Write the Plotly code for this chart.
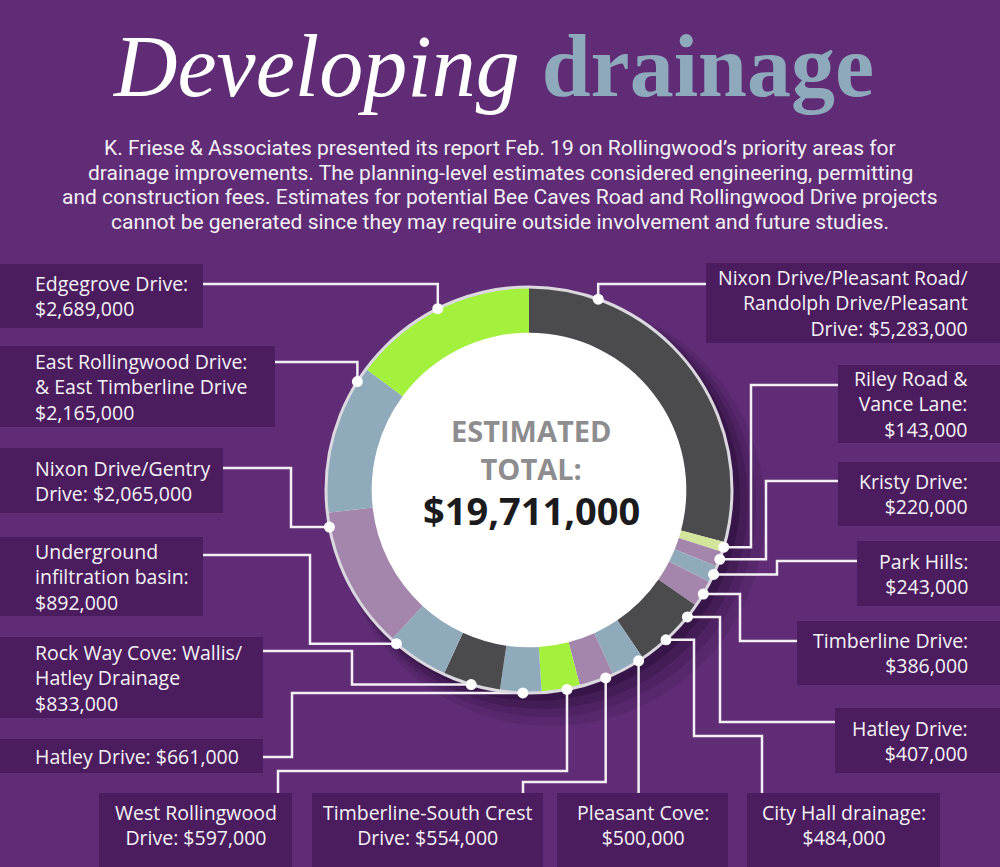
import math
import plotly.graph_objects as go

# ---- data (clockwise from 12 o'clock) ----
projects = ["Nixon Drive/Pleasant Road/Randolph Drive/Pleasant Drive",
            "Riley Road & Vance Lane", "Kristy Drive", "Park Hills",
            "Timberline Drive", "Hatley Drive", "City Hall drainage",
            "Pleasant Cove", "Timberline-South Crest Drive",
            "West Rollingwood Drive", "Hatley Drive",
            "Rock Way Cove: Wallis/Hatley Drainage",
            "Underground infiltration basin", "Nixon Drive/Gentry Drive",
            "East Rollingwood Drive & East Timberline Drive", "Edgegrove Drive"]
costs = [5283000, 143000, 220000, 243000, 386000, 407000, 484000, 500000,
         554000, 597000, 661000, 833000, 892000, 2065000, 2165000, 2689000]
# label wording as printed, {v} is the cost
label_text = ["Nixon Drive/Pleasant Road/<br>Randolph Drive/Pleasant<br>Drive: {v}",
              "Riley Road &<br>Vance Lane:<br>{v}",
              "Kristy Drive:<br>{v}",
              "Park Hills:<br>{v}",
              "Timberline Drive:<br>{v}",
              "Hatley Drive:<br>{v}",
              "City Hall drainage:<br>{v}",
              "Pleasant Cove:<br>{v}",
              "Timberline-South Crest<br>Drive: {v}",
              "West Rollingwood<br>Drive: {v}",
              "Hatley Drive: {v}",
              "Rock Way Cove: Wallis/<br>Hatley Drainage<br>{v}",
              "Underground<br>infiltration basin:<br>{v}",
              "Nixon Drive/Gentry<br>Drive: {v}",
              "East Rollingwood Drive:<br>& East Timberline Drive<br>{v}",
              "Edgegrove Drive:<br>{v}"]
estimated_total = 19711000

title_a = "Developing"
title_b = "drainage"
intro = ["K. Friese & Associates presented its report Feb. 19 on Rollingwood\u2019s priority areas for",
         "drainage improvements. The planning-level estimates considered engineering, permitting",
         "and construction fees. Estimates for potential Bee Caves Road and Rollingwood Drive projects",
         "cannot be generated since they may require outside involvement and future studies."]

# ---- styling / layout ----
BG = "#5f2c75"
BOX = "#4b1d5e"
LINE = "#f3eff5"
DARK, GREEN, BLUE, MAUVE, PALE = "#4b4b4d", "#a3f13d", "#8eaabb", "#a486ad", "#d3e59b"
slice_colors = [DARK, PALE, MAUVE, BLUE, MAUVE, DARK, BLUE, MAUVE, GREEN,
                BLUE, GREEN, DARK, BLUE, MAUVE, BLUE, GREEN]

W, H = 1000, 867
CX, CY, R = 529, 490, 203
HOLE = 0.775

# where along each slice the dot sits (0 = start, 1 = end)
dot_frac = [0.19, .5, .5, .5, .5, .5, .5, .5, .5, .5, .5, .5, 0.9, 0.9, 0.9, 0.5]

# label box rect, text anchor, and connector waypoints (None = dot coord)
boxes = [
    dict(r=(706, 263, 1000, 343), a="right", path=[(706, 284), (None, 284)]),
    dict(r=(838, 365, 1000, 443), a="right", path=[(838, 385), (751, 385), (751, None)]),
    dict(r=(838, 462, 1000, 526), a="right", path=[(838, 481), (766, 481), (766, None)]),
    dict(r=(857, 541, 1000, 606), a="right", path=[(857, 561), (777, 561), (777, None)]),
    dict(r=(797, 621, 1000, 685), a="right", path=[(797, 641), (740, 641), (740, None)]),
    dict(r=(835, 708, 1000, 773), a="right", path=[(835, 722), (720, 722), (720, None)]),
    dict(r=(747, 793, 940, 867), a="center", path=[(762, 793), (762, 736), (694, 736), (694, None)]),
    dict(r=(557, 793, 728, 867), a="center", path=[(None, 793)]),
    dict(r=(312, 793, 543, 867), a="center", path=[(523, 793), (523, 782), (None, 782)]),
    dict(r=(99, 793, 292, 867), a="center", path=[(278, 793), (278, 771), (None, 771)]),
    dict(r=(0, 739, 263, 773), a="left", path=[(263, 757), (292, 757), (292, None)]),
    dict(r=(0, 637, 263, 718), a="left", path=[(263, 651), (352, 651), (352, None)]),
    dict(r=(0, 537, 203, 616), a="left", path=[(203, 555), (310, 555), (310, None)]),
    dict(r=(0, 448, 223, 513), a="left", path=[(223, 468), (291, 468), (291, None)]),
    dict(r=(0, 346, 275, 427), a="left", path=[(275, 362), (None, 362)]),
    dict(r=(0, 264, 203, 328), a="left", path=[(203, 284), (None, 284)]),
]

fig = go.Figure()

fig.add_trace(go.Pie(
    values=costs, labels=projects, sort=False, direction="clockwise", rotation=0,
    hole=HOLE, textinfo="none", hoverinfo="label+value", showlegend=False,
    marker=dict(colors=slice_colors, line=dict(width=0)),
    domain=dict(x=[(CX - R) / W, (CX + R) / W], y=[1 - (CY + R) / H, 1 - (CY - R) / H]),
))

shapes = []
# soft shadow to the lower right of the ring
for off, rad, op in [(22, 214, 0.10), (17, 210, 0.14), (12, 207, 0.2), (7, 204, 0.28)]:
    shapes.append(dict(type="circle", xref="x", yref="y", layer="below",
                       x0=CX + off - rad, x1=CX + off + rad, y0=CY + off - rad, y1=CY + off + rad,
                       fillcolor="rgba(25,5,40,%.2f)" % op, line=dict(width=0)))
# white centre
shapes.append(dict(type="circle", xref="x", yref="y", layer="below",
                   x0=CX - R, x1=CX + R, y0=CY - R, y1=CY + R,
                   fillcolor="white", line=dict(width=0)))
# outer rim
shapes.append(dict(type="circle", xref="x", yref="y", layer="above",
                   x0=CX - R, x1=CX + R, y0=CY - R, y1=CY + R,
                   line=dict(color="#dcd8e0", width=3)))

total = sum(costs)
start = 0.0
annotations = []
for i, v in enumerate(costs):
    span = v / total * 360
    ang = math.radians(start + span * dot_frac[i])
    start += span
    dx, dy = CX + R * math.sin(ang), CY - R * math.cos(ang)

    b = boxes[i]
    x0, y0, x1, y1 = b["r"]
    shapes.append(dict(type="rect", xref="x", yref="y", layer="below",
                       x0=x0, x1=x1, y0=y0, y1=y1, fillcolor=BOX, line=dict(width=0)))
    pts = [(dx if px is None else px, dy if py is None else py) for px, py in b["path"]]
    pts.append((dx, dy))
    d = "M %.1f,%.1f " % pts[0] + " ".join("L %.1f,%.1f" % p for p in pts[1:])
    shapes.append(dict(type="path", xref="x", yref="y", layer="below", path=d,
                       line=dict(color=LINE, width=2.5)))
    shapes.append(dict(type="circle", xref="x", yref="y", layer="above",
                       x0=dx - 5.5, x1=dx + 5.5, y0=dy - 5.5, y1=dy + 5.5,
                       fillcolor="white", line=dict(width=0)))

    if b["a"] == "left":
        tx, xa = 33, "left"
    elif b["a"] == "right":
        tx, xa = 970, "right"
    else:
        tx, xa = (x0 + x1) / 2, "center"
    ty = (y0 + y1) / 2 if y1 < H else y0 + 32
    annotations.append(dict(x=tx, y=ty, xref="x", yref="y", xanchor=xa, yanchor="middle",
                            align=b["a"], showarrow=False,
                            text=label_text[i].format(v="${:,}".format(v)),
                            font=dict(family="Open Sans", size=19.5, color="#f6f2f8")))

# title and intro
annotations.append(dict(x=493, y=66, xref="x", yref="y", showarrow=False,
                        text="<i>%s</i> <b><span style='color:#8fa9bc'>%s</span></b>" % (title_a, title_b),
                        font=dict(family="Liberation Serif", size=88, color="white")))
for k, line in enumerate(intro):
    annotations.append(dict(x=500, y=148 + k * 24.7, xref="x", yref="y", showarrow=False,
                            text=line,
                            font=dict(family="Roboto", size=21, color="#f4eff6")))

# centre text
annotations.append(dict(x=CX + 2, y=449, xref="x", yref="y", showarrow=False,
                        text="<b>ESTIMATED<br>TOTAL:</b>",
                        font=dict(family="Open Sans", size=29, color="#8d8d8f")))
annotations.append(dict(x=CX + 2, y=510, xref="x", yref="y", showarrow=False,
                        text="<b>${:,}</b>".format(estimated_total),
                        font=dict(family="Open Sans", size=38, color="#1b1b1d")))

fig.update_layout(
    width=W, height=H, margin=dict(l=0, r=0, t=0, b=0),
    paper_bgcolor=BG, plot_bgcolor=BG,
    xaxis=dict(range=[0, W], visible=False, fixedrange=True),
    yaxis=dict(range=[H, 0], visible=False, fixedrange=True),
    shapes=shapes, annotations=annotations, showlegend=False,
)

# drop the page's default body margin so the figure fills the window
fig.write_html("out.html", config={"displayModeBar": False},
               post_script="document.body.style.margin='0';document.body.style.overflow='hidden';")
